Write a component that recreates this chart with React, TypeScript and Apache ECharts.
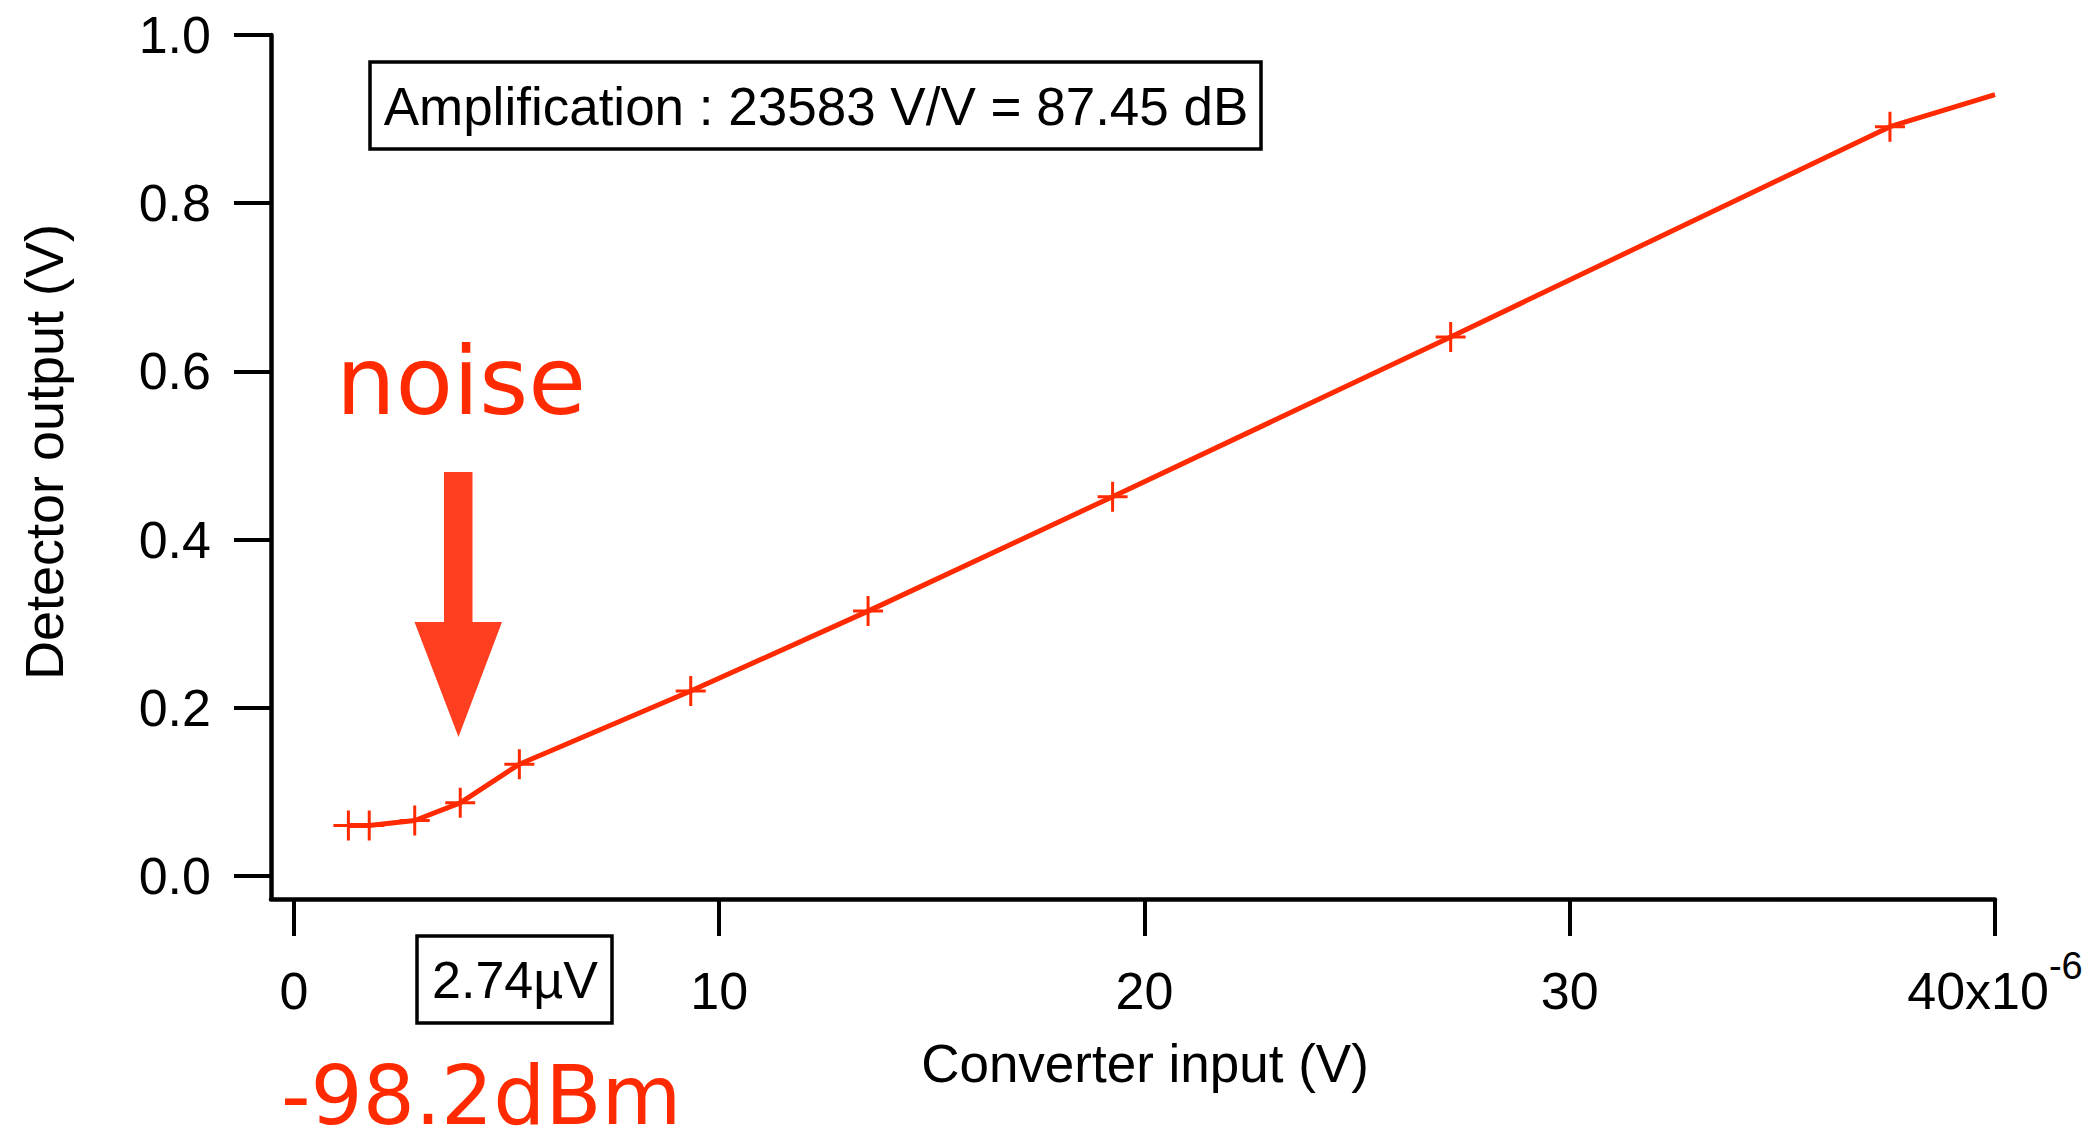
import React, { useEffect, useRef } from 'react';
import * as echarts from 'echarts';

// Converter input in microvolts (axis shows the x10^-6 factor) and detector output in volts
const converterInputUV = [1.28, 1.77, 2.84, 3.91, 5.3, 9.33, 13.5, 19.25, 27.2, 37.53, 40.0];
const detectorOutputV = [0.06, 0.06, 0.066, 0.087, 0.133, 0.22, 0.315, 0.451, 0.641, 0.891, 0.929];

const xTickValues = [0, 10, 20, 30, 40];
const yTickValues = [0, 0.2, 0.4, 0.6, 0.8, 1.0];
const xExponent = '-6';

const xTitle = 'Converter input (V)';
const yTitle = 'Detector output (V)';
const amplificationText = 'Amplification : 23583 V/V = 87.45 dB';
const noiseText = 'noise';
const noiseFloorVoltage = '2.74µV';
const noiseFloorPower = '-98.2dBm';

const RED = '#ff2a00';
const ARROW_RED = '#ff3f1f';
const FONT = '"Liberation Sans", Arial, Helvetica, sans-serif';
const HAND_FONT = '"Comic Sans MS", "DejaVu Sans", sans-serif';

export default function App() {
  const ref = useRef<HTMLDivElement>(null);

  useEffect(() => {
    if (!ref.current) return;
    const chart = echarts.init(ref.current, undefined, { renderer: 'svg' });

    const lastIndex = converterInputUV.length - 1;
    const points = converterInputUV.map((x, i) =>
      i === lastIndex
        ? { value: [x, detectorOutputV[i]], symbol: 'none' }
        : { value: [x, detectorOutputV[i]] }
    );

    const axisColor = '#000';

    chart.setOption({
      animation: false,
      backgroundColor: '#fff',
      grid: { left: 271, right: 102, top: 35, bottom: 248, containLabel: false },
      xAxis: {
        type: 'value',
        min: -0.54,
        max: 40,
        axisLine: { onZero: false, lineStyle: { color: axisColor, width: 4.5 } },
        axisTick: {
          customValues: xTickValues,
          length: 37,
          lineStyle: { color: axisColor, width: 4 },
        },
        axisLabel: {
          customValues: xTickValues,
          margin: 92,
          color: '#000',
          fontFamily: FONT,
          fontSize: 52,
          lineHeight: 88,
          verticalAlign: 'middle',
          formatter: (v: number) =>
            v === xTickValues[xTickValues.length - 1] ? `${v}x10{sup|${xExponent}}` : String(v),
          rich: {
            sup: {
              fontFamily: FONT,
              fontSize: 38,
              lineHeight: 38,
              verticalAlign: 'top',
              color: '#000',
            },
          },
        },
        splitLine: { show: false },
      },
      yAxis: {
        type: 'value',
        min: -0.0273,
        max: 1,
        axisLine: { onZero: false, lineStyle: { color: axisColor, width: 4.5 } },
        axisTick: {
          customValues: yTickValues,
          length: 37,
          lineStyle: { color: axisColor, width: 4 },
        },
        axisLabel: {
          customValues: yTickValues,
          margin: 60,
          color: '#000',
          fontFamily: FONT,
          fontSize: 52,
          formatter: (v: number) => v.toFixed(1),
        },
        splitLine: { show: false },
      },
      series: [
        {
          type: 'line',
          data: points,
          symbol: 'path://M15,0L15,30M0,15L30,15',
          symbolSize: 30,
          lineStyle: { color: RED, width: 5 },
          itemStyle: { color: RED, borderColor: RED, borderWidth: 3 },
          emphasis: { disabled: true },
          silent: true,
        },
      ],
      graphic: [
        // axis titles
        {
          type: 'text',
          x: 44,
          y: 452,
          rotation: Math.PI / 2,
          style: {
            text: yTitle,
            fontFamily: FONT,
            fontSize: 54,
            fill: '#000',
            align: 'center',
            verticalAlign: 'middle',
          },
        },
        {
          type: 'text',
          x: 1145,
          y: 1063,
          style: {
            text: xTitle,
            fontFamily: FONT,
            fontSize: 53,
            fill: '#000',
            align: 'center',
            verticalAlign: 'middle',
          },
        },
        // amplification box
        {
          type: 'rect',
          shape: { x: 370, y: 62, width: 891, height: 87 },
          style: { fill: '#fff', stroke: '#000', lineWidth: 3.5 },
        },
        {
          type: 'text',
          x: 816,
          y: 106,
          style: {
            text: amplificationText,
            fontFamily: FONT,
            fontSize: 53,
            fill: '#000',
            align: 'center',
            verticalAlign: 'middle',
          },
        },
        // noise annotation with arrow
        {
          type: 'text',
          x: 336,
          y: 381,
          style: {
            text: noiseText,
            fontFamily: HAND_FONT,
            fontSize: 94,
            fill: RED,
            align: 'left',
            verticalAlign: 'middle',
          },
        },
        {
          type: 'polygon',
          shape: {
            points: [
              [444, 472],
              [472.5, 472],
              [472.5, 622],
              [502, 622],
              [458.5, 737],
              [414.5, 622],
              [444, 622],
            ],
          },
          style: { fill: ARROW_RED },
        },
        // noise floor boxes
        {
          type: 'rect',
          shape: { x: 417, y: 936, width: 195, height: 87 },
          style: { fill: '#fff', stroke: '#000', lineWidth: 3.5 },
        },
        {
          type: 'text',
          x: 515,
          y: 980,
          style: {
            text: noiseFloorVoltage,
            fontFamily: FONT,
            fontSize: 52,
            fill: '#000',
            align: 'center',
            verticalAlign: 'middle',
          },
        },
        {
          type: 'text',
          x: 281,
          y: 1095,
          style: {
            text: noiseFloorPower,
            fontFamily: HAND_FONT,
            fontSize: 82,
            fill: RED,
            align: 'left',
            verticalAlign: 'middle',
          },
        },
      ],
    });

    return () => chart.dispose();
  }, []);

  return (
    <div
      ref={ref}
      style={{ position: 'absolute', left: 0, top: 0, width: 2097, height: 1147, background: '#fff' }}
    />
  );
}
